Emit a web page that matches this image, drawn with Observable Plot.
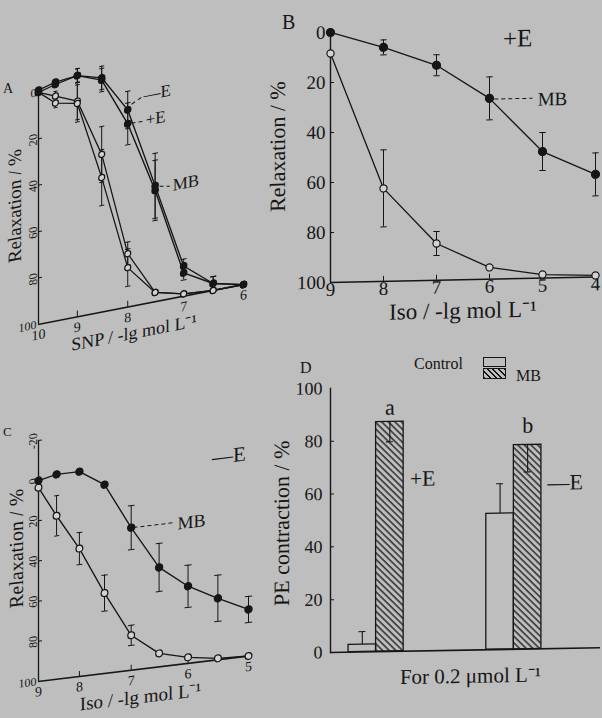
<!DOCTYPE html>
<html>
<head>
<meta charset="utf-8">
<script src="https://cdn.jsdelivr.net/npm/d3@7"></script>
<script src="https://cdn.jsdelivr.net/npm/@observablehq/plot@0.6"></script>
<style>
  html, body { margin: 0; padding: 0; width: 602px; height: 718px; overflow: hidden; background: #bebebe; }
  body { position: relative; font-family: "Liberation Serif", "Times New Roman", serif; color: #161616; }
  .panel { position: absolute; }
  .panel svg { display: block; overflow: visible; max-width: none; }
  .lbl { position: absolute; line-height: 1; white-space: nowrap; }
  .box { position: absolute; border: 1.2px solid #161616; box-sizing: border-box; }
</style>
</head>
<body>
<div id="pA" class="panel" style="left:0px;top:0px;width:290px;transform:skewY(-11deg);transform-origin:38px 0px;"></div>
<div id="pB" class="panel" style="left:262px;top:0px;width:340px;transform:skewY(-1.2deg);transform-origin:68px 0px;"></div>
<div id="pC" class="panel" style="left:0px;top:420px;width:290px;transform:skewY(-6.9deg);transform-origin:38px 0px;"></div>
<div id="pD" class="panel" style="left:262px;top:350px;width:340px;transform:skewY(-1deg);transform-origin:68px 0px;"></div>

<div class="lbl" style="left:3px;top:82px;font-size:14px;">A</div>
<div class="lbl" style="left:282px;top:12px;font-size:20px;">B</div>
<div class="lbl" style="left:3px;top:425px;font-size:13px;">C</div>
<div class="lbl" style="left:300px;top:360px;font-size:16px;">D</div>

<div class="lbl" style="left:414px;top:356px;font-size:16px;">Control</div>
<div class="box" style="left:483px;top:357px;width:23px;height:10px;"></div>
<div class="box" style="left:483px;top:368px;width:23px;height:11px;background:repeating-linear-gradient(45deg,#161616 0 1.2px,transparent 1.2px 4px);"></div>
<div class="lbl" style="left:516px;top:368px;font-size:16px;">MB</div>

<script>
// ---------------- data ----------------
// Panel A: SNP, relaxation (%)
const snpDose = [10, 9.5, 9, 8.5, 8, 7.5, 7, 6.5, 6];
const snpMBminusE = [-1, -3, -4, -1, 15, 50, 87, 97, 100];
const snpMBminusE_sem = [0, 0, 3, 5, 8, 14, 3, 3, 0];
const snpMBplusE = [0, -2, -4, 0, 21, 52, 90, 97, 100];
const snpMBplusE_sem = [0, 0, 3, 5, 9, 13, 3, 3, 0];
const snpCtrlMinusE = [0, 3, 7, 32, 77, 96, 99, 100, 100];
const snpCtrlMinusE_sem = [0, 2, 8, 12, 5, 0, 0, 0, 0];
const snpCtrlPlusE = [0, 6, 8, 42, 83, 96, 99, 100, 100];
const snpCtrlPlusE_sem = [0, 2, 8, 12, 8, 0, 0, 0, 0];
const snpXTicks = [10, 9, 8, 7, 6];

// Panel B: Iso, +E
const isoBDose = [9, 8, 7, 6, 5, 4];
const isoBMB = [0, 6.4, 14, 27.7, 49.4, 59];
const isoBMB_sem = [0, 3, 4.2, 8.6, 7.6, 8.6];
const isoBCtrl = [8.4, 62.8, 85.3, 95.3, 98.6, 99.4];
const isoBCtrl_sem = [0, 15.4, 4.8, 0, 0, 0];
const isoBXTicks = [9, 8, 7, 6, 5, 4];

// Panel C: Iso, -E
const isoCDose = [9, 8.5, 8, 7.5, 7, 6.5, 6, 5.5, 5];
const isoCMB = [0, -2, -2, 6, 29, 50.5, 61.6, 69.4, 76.8];
const isoCMB_sem = [0, 0, 0, 0, 11, 12, 10.5, 11.5, 6.5];
const isoCCtrl = [3.5, 18.6, 36.3, 60, 82.6, 93.3, 97, 99.3, 100];
const isoCCtrl_sem = [0, 10, 8, 9, 5, 0, 0, 0, 0];
const isoCXTicks = [9, 8, 7, 6, 5];

// Panel D: PE contraction (%)
const groupsD = ["+E", "—E"];
const ctrlD = [2.8, 51.5];
const ctrlD_sem = [4.9, 11.3];
const mbD = [87, 77.3];
const mbD_sem = [7.6, 10.2];
const letterD = ["a", "b"];

const relTicks = [0, 20, 40, 60, 80, 100];
const relTicksC = [-20, 0, 20, 40, 60, 80, 100];

// ---------------- style ----------------
const ink = "#161616";
const openFill = "#d2d2d2";
const serif = "'Liberation Serif', 'Times New Roman', serif";
const baseStyle = {background: "transparent", overflow: "visible", fontFamily: serif, color: ink};

function rows(xs, vs, es) { return xs.map((x, i) => ({x, v: vs[i], e: es[i]})); }

// book-curl distortion of the scanned page: gently warped dose axis
function warped(d0, d1, r0, r1, p, steps) {
  const domain = d3.range(steps + 1).map(i => d0 + (d1 - d0) * i / steps);
  const range = domain.map(v => r0 + (r1 - r0) * Math.pow((v - d0) / (d1 - d0), p));
  return {domain, range};
}

function errorMarks(data, capW, sw = 1) {
  const d = data.filter(r => r.e > 0);
  return [
    Plot.ruleX(d, {x: "x", y1: r => r.v - r.e, y2: r => r.v + r.e, stroke: ink, strokeWidth: sw}),
    Plot.link(d, {x1: r => r.x - capW, x2: r => r.x + capW, y1: r => r.v - r.e, y2: r => r.v - r.e, stroke: ink, strokeWidth: sw}),
    Plot.link(d, {x1: r => r.x - capW, x2: r => r.x + capW, y1: r => r.v + r.e, y2: r => r.v + r.e, stroke: ink, strokeWidth: sw})
  ];
}
function lineMark(data, sw) { return Plot.line(data, {x: "x", y: "v", stroke: ink, strokeWidth: sw}); }
function dotMark(data, filled, r) {
  return Plot.dot(data, {x: "x", y: "v", r, fill: filled ? ink : openFill, stroke: ink, strokeWidth: 1.2});
}
function leaders(ann, sw = 1) {
  return Plot.link(ann, {x1: "x1", y1: "y1", x2: "x2", y2: "y2", stroke: ink, strokeWidth: sw, strokeDasharray: "4,3"});
}
function yTitle(t, dx, dy, fontSize) {
  return Plot.text([t], {text: d => d, frameAnchor: "left", textAnchor: "middle", lineAnchor: "middle", rotate: -90, dx, dy, fontSize});
}
function xTitle(t, dx, dy, fontSize) {
  return Plot.text([t], {text: d => d, frameAnchor: "bottom", textAnchor: "middle", lineAnchor: "middle", dx, dy, fontSize});
}

// ---------------- Panel A ----------------
{
  const mbM = rows(snpDose, snpMBminusE, snpMBminusE_sem);
  const mbP = rows(snpDose, snpMBplusE, snpMBplusE_sem);
  const cM = rows(snpDose, snpCtrlMinusE, snpCtrlMinusE_sem);
  const cP = rows(snpDose, snpCtrlPlusE, snpCtrlPlusE_sem);
  const annA = [
    {label: "—E", x: 7.71, y: 10.1, x1: 7.93, y1: 12.9, x2: 7.75, y2: 10.8},
    {label: "+E", x: 7.67, y: 21.0, x1: 7.93, y1: 21.1, x2: 7.73, y2: 21.2},
    {label: "MB", x: 7.19, y: 51.3, x1: 7.42, y1: 50.6, x2: 7.24, y2: 51.5}
  ];
  const xs = warped(10, 6, 38, 243, 1.2, 16);
  const plot = Plot.plot({
    width: 290, height: 370, marginLeft: 38, marginRight: 47, marginTop: 92, marginBottom: 46,
    style: baseStyle,
    x: {type: "linear", domain: xs.domain, range: xs.range, axis: null},
    y: {domain: [0, 100], reverse: true, axis: null},
    marks: [
      Plot.ruleX([10], {stroke: ink, strokeWidth: 1.3}),
      Plot.ruleY([100], {stroke: ink, strokeWidth: 1.6}),
      Plot.tickY(relTicks.slice(1, -1), {y: d => d, insetRight: 201, stroke: ink}),
      Plot.ruleX(snpXTicks.slice(1, -1), {x: d => d, y1: 100, y2: 97.5, stroke: ink}),
      Plot.axisX({ticks: snpXTicks, tickSize: 0, tickPadding: 5, fontSize: 14, tickFormat: d => String(d)}),
      Plot.axisY({ticks: relTicks.slice(1, -1), tickSize: 0, tickPadding: 2, tickRotate: -90, fontSize: 12, tickFormat: d => String(d)}),
      Plot.axisY({ticks: [0, 100], tickSize: 0, tickPadding: 2, fontSize: 12, tickFormat: d => String(d)}),
      ...errorMarks(cM, 0.05), ...errorMarks(cP, 0.05), ...errorMarks(mbM, 0.05), ...errorMarks(mbP, 0.05),
      lineMark(cM, 1.2), lineMark(cP, 1.2), lineMark(mbM, 1.3), lineMark(mbP, 1.3),
      dotMark(cM, false, 3), dotMark(cP, false, 3), dotMark(mbM, true, 3.2), dotMark(mbP, true, 3.2),
      leaders(annA),
      Plot.text(annA, {x: "x", y: "y", text: "label", textAnchor: "start", fontSize: 17}),
      yTitle("Relaxation / %", -24, -7, 19),
      xTitle("SNP / -lg mol L⁻¹", -7, 27, 18)
    ]
  });
  document.getElementById("pA").append(plot);
}

// ---------------- Panel B ----------------
{
  const mb = rows(isoBDose, isoBMB, isoBMB_sem);
  const c = rows(isoBDose, isoBCtrl, isoBCtrl_sem);
  const annB = [{label: "MB", x: 5.09, y: 28.5, x1: 5.91, y1: 28, x2: 5.19, y2: 28}];
  const plot = Plot.plot({
    width: 340, height: 345, marginLeft: 68, marginRight: 7, marginTop: 32, marginBottom: 63,
    style: baseStyle,
    x: {domain: [9, 4], axis: null},
    y: {domain: [0, 100], reverse: true, axis: null},
    marks: [
      Plot.ruleX([9], {stroke: ink, strokeWidth: 1.4}),
      Plot.ruleY([100], {stroke: ink, strokeWidth: 1.6}),
      Plot.tickY(relTicks.slice(1, -1), {y: d => d, insetRight: 261, stroke: ink}),
      Plot.ruleX(isoBXTicks.slice(1, -1), {x: d => d, y1: 100, y2: 98, stroke: ink}),
      Plot.axisX({ticks: isoBXTicks, tickSize: 0, tickPadding: 0, fontSize: 19, tickFormat: d => String(d)}),
      Plot.axisY({ticks: relTicks, tickSize: 0, tickPadding: 5, fontSize: 19, tickFormat: d => String(d)}),
      ...errorMarks(c, 0.06), ...errorMarks(mb, 0.06),
      lineMark(c, 1.3), lineMark(mb, 1.3),
      dotMark(c, false, 3.6), dotMark(mb, true, 4),
      leaders(annB),
      Plot.text(annB, {x: "x", y: "y", text: "label", textAnchor: "start", fontSize: 19}),
      Plot.text(["+E"], {text: d => d, x: 5.47, y: 4, fontSize: 25}),
      yTitle("Relaxation / %", -53, -12, 22),
      xTitle("Iso / -lg mol L⁻¹", 0, 31, 23)
    ]
  });
  document.getElementById("pB").append(plot);
}

// ---------------- Panel C ----------------
{
  const mb = rows(isoCDose, isoCMB, isoCMB_sem);
  const c = rows(isoCDose, isoCCtrl, isoCCtrl_sem);
  const annC = [{label: "MB", x: 6.18, y: 29.8, x1: 6.96, y1: 29.1, x2: 6.25, y2: 29.1}];
  const xs = warped(9, 5, 38, 248, 1.18, 16);
  const plot = Plot.plot({
    width: 290, height: 310, marginLeft: 38, marginRight: 42, marginTop: 20, marginBottom: 49,
    style: baseStyle,
    x: {type: "linear", domain: xs.domain, range: xs.range, axis: null},
    y: {domain: [-20, 100], reverse: true, axis: null},
    marks: [
      Plot.ruleX([9], {stroke: ink, strokeWidth: 1.3}),
      Plot.ruleY([100], {stroke: ink, strokeWidth: 1.6}),
      Plot.tickY(relTicksC.slice(0, -1), {y: d => d, insetRight: 206, stroke: ink}),
      Plot.ruleX(isoCXTicks.slice(1, -1), {x: d => d, y1: 100, y2: 97.5, stroke: ink}),
      Plot.axisX({ticks: isoCXTicks, tickSize: 0, tickPadding: 5, fontSize: 14, tickFormat: d => String(d)}),
      Plot.axisY({ticks: relTicksC.slice(0, -1), tickSize: 0, tickPadding: 2, tickRotate: -90, fontSize: 12, tickFormat: d => String(d)}),
      Plot.axisY({ticks: [100], tickSize: 0, tickPadding: 2, fontSize: 12, tickFormat: d => String(d)}),
      ...errorMarks(c, 0.06), ...errorMarks(mb, 0.06),
      lineMark(c, 1.3), lineMark(mb, 1.3),
      dotMark(c, false, 3.4), dotMark(mb, true, 3.6),
      leaders(annC),
      Plot.text(annC, {x: "x", y: "y", text: "label", textAnchor: "start", fontSize: 18}),
      Plot.text(["—E"], {text: d => d, x: 5.32, y: -0.9, fontSize: 21}),
      yTitle("Relaxation / %", -22, -15, 20),
      xTitle("Iso / -lg mol L⁻¹", -3, 28, 19)
    ]
  });
  document.getElementById("pC").append(plot);
}

// ---------------- Panel D ----------------
{
  const dD = groupsD.map((g, i) => ({g, ctrl: ctrlD[i], ctrlE: ctrlD_sem[i], mb: mbD[i], mbE: mbD_sem[i], letter: letterD[i]}));
  const sideY = [65.2, 62.8];
  const letterY = [92.4, 84.6];
  const bandOpts = {paddingInner: 0.6, paddingOuter: 0.28, align: 0.234};
  const bw = d3.scaleBand(groupsD, [68, 338]).paddingInner(bandOpts.paddingInner).paddingOuter(bandOpts.paddingOuter).align(bandOpts.align).bandwidth();
  const plot = Plot.plot({
    width: 340, height: 368, marginLeft: 68, marginRight: 2, marginTop: 38, marginBottom: 66,
    style: baseStyle,
    x: {type: "band", domain: groupsD, ...bandOpts, round: false, axis: null},
    y: {domain: [0, 100], axis: null},
    marks: [
      Plot.frame({anchor: "left", stroke: ink, strokeWidth: 1.4}),
      Plot.ruleY([0], {stroke: ink, strokeWidth: 1.6}),
      Plot.tickY(relTicks.slice(0, -1), {y: d => d, insetRight: 266, stroke: ink}),
      Plot.axisY({ticks: relTicks, tickSize: 0, tickPadding: 8, fontSize: 18, tickFormat: d => String(d)}),
      Plot.rectY(dD, {x: "g", y1: 0, y2: "ctrl", insetRight: bw / 2, fill: "none", stroke: ink, strokeWidth: 1.3}),
      Plot.rectY(dD, {x: "g", y1: 0, y2: "mb", insetLeft: bw / 2, fill: "url(#hatchD)", stroke: ink, strokeWidth: 1.3}),
      Plot.ruleX(dD, {x: "g", dx: -bw / 4, y1: "ctrl", y2: d => d.ctrl + d.ctrlE, stroke: ink, strokeWidth: 1.1}),
      Plot.tickY(dD, {x: "g", y: d => d.ctrl + d.ctrlE, insetLeft: bw / 4 - 3.5, insetRight: 3 * bw / 4 - 3.5, stroke: ink, strokeWidth: 1.1}),
      Plot.ruleX(dD, {x: "g", dx: bw / 4, y1: "mb", y2: d => d.mb - d.mbE, stroke: ink, strokeWidth: 1.1}),
      Plot.tickY(dD, {x: "g", y: d => d.mb - d.mbE, insetLeft: 3 * bw / 4 - 3.5, insetRight: bw / 4 - 3.5, stroke: ink, strokeWidth: 1.1}),
      Plot.text(dD, {x: "g", y: (d, i) => letterY[i], text: "letter", dx: bw / 4, fontSize: 22}),
      Plot.text(dD, {x: "g", y: (d, i) => sideY[i], text: "g", dx: bw / 2 + 6, textAnchor: "start", fontSize: 22}),
      yTitle("PE contraction / %", -49, 2, 22),
      xTitle("For 0.2 μmol L⁻¹", 5, 26, 21)
    ]
  });
  const ns = "http://www.w3.org/2000/svg";
  const defs = document.createElementNS(ns, "defs");
  defs.innerHTML = '<pattern id="hatchD" patternUnits="userSpaceOnUse" width="4.6" height="4.6" patternTransform="rotate(-45)"><line x1="1" y1="0" x2="1" y2="4.6" stroke="#161616" stroke-width="1.3"/></pattern>';
  plot.prepend(defs);
  document.getElementById("pD").append(plot);
}
</script>
</body>
</html>
